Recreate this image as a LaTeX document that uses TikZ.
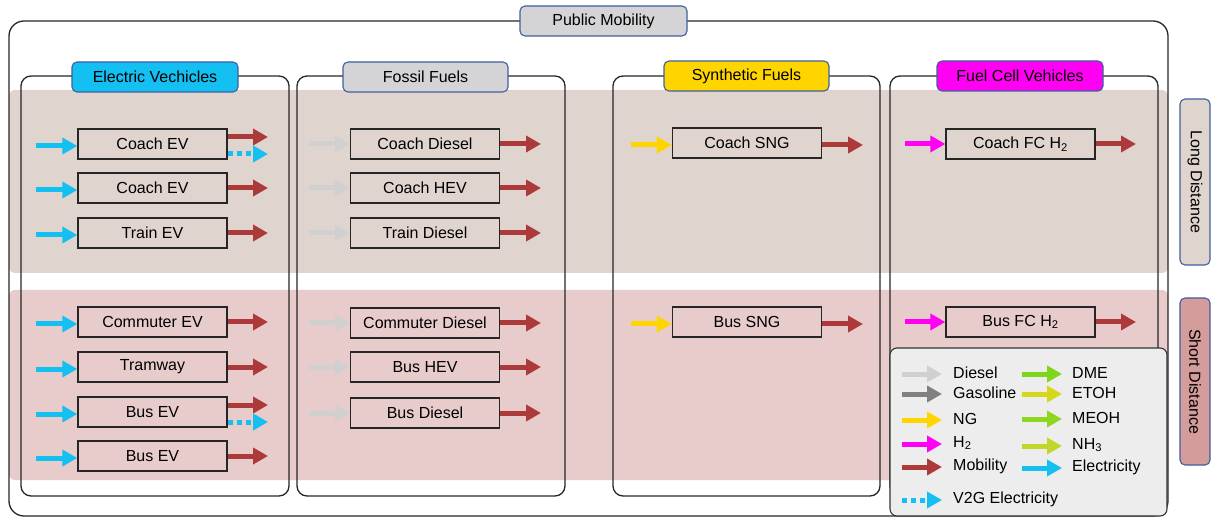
\documentclass[tikz,border=0pt]{standalone}
\usepackage{fontspec}
\setmainfont{Liberation Sans}
\usetikzlibrary{arrows.meta}

\definecolor{bandlong}{HTML}{E0D4CF}
\definecolor{bandshort}{HTML}{E8CBCB}
\definecolor{labshort}{HTML}{D59C9C}
\definecolor{frameblue}{HTML}{3F5F9E}
\definecolor{hdrgray}{HTML}{D4D4D6}
\definecolor{elec}{HTML}{14BFF2}
\definecolor{dieselc}{HTML}{D0D0D0}
\definecolor{gasc}{HTML}{808080}
\definecolor{ngc}{HTML}{FFD500}
\definecolor{hyc}{HTML}{FF00F2}
\definecolor{mobc}{HTML}{AD3A3A}
\definecolor{dmec}{HTML}{7ED61A}
\definecolor{etohc}{HTML}{D6D61A}
\definecolor{meohc}{HTML}{8FD61E}
\definecolor{nhc}{HTML}{C2D62A}
\definecolor{legfill}{HTML}{EDEDED}

\tikzset{
  txt/.style={font=\fontsize{16}{19}\selectfont, text=black},
  tech/.style={txt, draw=black!85, line width=1.4pt, minimum width=149pt,
               minimum height=30pt, inner sep=0pt},
  hdr/.style={txt, draw=frameblue, line width=1.1pt, rounded corners=5pt,
              minimum width=166pt, minimum height=30pt, inner sep=0pt},
  column/.style={draw=black!85, line width=1.3pt, rounded corners=10pt},
  flow/.style={line width=5pt, -{Triangle[length=15pt,width=16pt]}},
  v2g/.style={flow, dash pattern=on 5pt off 4pt},
  legtxt/.style={txt, anchor=west, inner sep=0pt},
}

\begin{document}
\begin{tikzpicture}[x=1pt, y=-1pt]
\useasboundingbox (0,0) rectangle (1212,518);

% distance bands
\fill[bandlong, rounded corners=6pt] (9,90) rectangle (1168,273);
\fill[bandshort, rounded corners=6pt] (9,290) rectangle (1168,480);

% outer frame and the four columns
\draw[column, rounded corners=15pt] (9,21) rectangle (1168,516);
\draw[column] (21,76) rectangle (289,496);
\draw[column] (297,76) rectangle (565,496);
\draw[column] (613,76) rectangle (880,496);
\draw[column] (890,76) rectangle (1158,496);

% headers
\node[hdr, fill=hdrgray, minimum width=167pt] (pm) at (603.5,21) {Public Mobility};
\node[hdr, fill=elec] (hev) at (155,77) {Electric Vechicles};
\node[hdr, fill=hdrgray, minimum width=165pt] (hff) at (425.5,77) {Fossil Fuels};
\node[hdr, fill=ngc, minimum width=165pt] (hsf) at (746.5,76) {Synthetic Fuels};
\node[hdr, fill=hyc] (hfc) at (1020,76) {Fuel Cell Vehicles};

% side labels
\node[hdr, fill=bandlong, rotate=-90, minimum width=166pt] (ld) at (1195,182) {Long Distance};
\node[hdr, fill=labshort, rotate=-90, minimum width=167pt] (sd) at (1195,381.5) {Short Distance};

% ---- electric vehicles ----
\foreach \n/\y/\t in {e1/144/Coach EV, e2/188/Coach EV, e3/233/Train EV,
                      e4/322/Commuter EV, e5/367/Tramway, e6/412/Bus EV, e7/456/Bus EV}{
  \node[tech] (\n) at (152.5,\y) {\t};
  \coordinate (\n in) at (36,\y+2);
  \draw[flow, elec] (\n in) -- (\n.west |- \n in);
}
\foreach \n in {e2,e3,e4,e5,e7}{
  \coordinate (\n out) at (268,0 |- \n.east);
  \draw[flow, mobc] (\n.east) -- (\n out);
}
% two outputs: mobility above, V2G electricity below
\foreach \n in {e1,e6}{
  \coordinate (\n out) at ([yshift=7pt]268,0 |- \n.east);
  \coordinate (\n g) at ([yshift=-10pt]268,0 |- \n.east);
  \draw[flow, mobc] (\n.east |- \n out) -- (\n out);
  \draw[v2g, elec] (\n.east |- \n g) -- (\n g);
}

% ---- fossil fuels ----
\foreach \n/\y/\t in {f1/144/Coach Diesel, f2/188/Coach HEV, f3/233/Train Diesel,
                      f4/323/Commuter Diesel, f5/367/Bus HEV, f6/413/Bus Diesel}{
  \node[tech] (\n) at (425,\y) {\t};
  \coordinate (\n in) at (309,\y);
  \coordinate (\n out) at (541,\y);
  \draw[flow, dieselc] (\n in) -- (\n.west);
  \draw[flow, mobc] (\n.east) -- (\n out);
}

% ---- synthetic fuels ----
\foreach \n/\y/\t in {s1/143/Coach SNG, s2/322/Bus SNG}{
  \node[tech] (\n) at (747,\y) {\t};
  \coordinate (\n in) at (631,\y+2);
  \coordinate (\n out) at (863,\y+2);
  \draw[flow, ngc] (\n in) -- (\n.west |- \n in);
  \draw[flow, mobc] (\n.east |- \n out) -- (\n out);
}

% ---- fuel cell vehicles ----
\foreach \n/\y/\t in {h1/144/Coach FC H\textsubscript{2}, h2/322/Bus FC H\textsubscript{2}}{
  \node[tech] (\n) at (1020.5,\y) {\t};
  \coordinate (\n in) at (905,\y);
  \coordinate (\n out) at (1136,\y);
  \draw[flow, hyc] (\n in) -- (\n.west);
  \draw[flow, mobc] (\n.east) -- (\n out);
}

% ---- legend ----
\fill[legfill, draw=black!80, line width=1.1pt, rounded corners=7pt] (890,348) rectangle (1167,516);
\foreach \k/\y/\c/\t in {l1/374/dieselc/Diesel, l2/394/gasc/Gasoline, l3/420/ngc/NG,
                         l4/444/hyc/H\textsubscript{2}, l5/467/mobc/Mobility}{
  \coordinate (\k a) at (902,\y);
  \node[legtxt] (\k) at (953,\y-1) {\t};
  \draw[flow, \c] (\k a) -- ([xshift=-11pt]\k.west |- \k a);
}
\foreach \k/\y/\c/\t in {r1/374/dmec/DME, r2/394/etohc/ETOH, r3/419/meohc/MEOH,
                         r4/446/nhc/NH\textsubscript{3}, r5/468/elec/Electricity}{
  \coordinate (\k a) at (1022,\y);
  \node[legtxt] (\k) at (1072,\y-1) {\t};
  \draw[flow, \c] (\k a) -- ([xshift=-10pt]\k.west |- \k a);
}
\coordinate (l6a) at (902,500);
\node[legtxt] (l6) at (953,499) {V2G Electricity};
\draw[v2g, elec] (l6a) -- ([xshift=-11pt]l6.west |- l6a);

\end{tikzpicture}
\end{document}
